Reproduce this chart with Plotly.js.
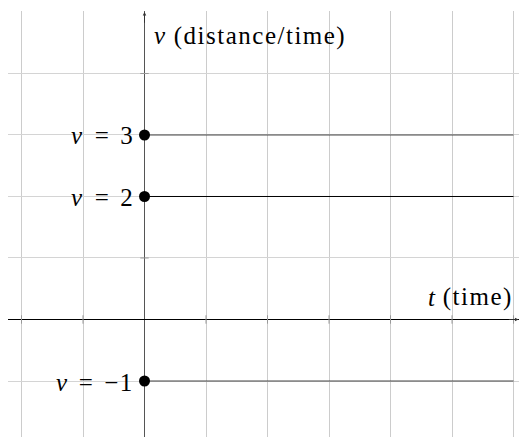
<!DOCTYPE html>
<html>
<head>
<meta charset="utf-8">
<script src="https://cdn.plot.ly/plotly-3.0.1.min.js"></script>
<style>
  html, body { margin: 0; padding: 0; background: #fff; }
  #chart { width: 519px; height: 437px; }
  .annotation-text { letter-spacing: 1.5px; }
</style>
</head>
<body>
<div id="chart"></div>
<script>
// Constant velocities, each held from t = 0 onward
const velocities = [3, 2, -1];
const tStart = 0;
const tEnd = 6;

// Axis tick positions (small marks along the axes)
const tTicks = [-2, -1, 1, 2, 3, 4, 5, 6];
const vTicks = [-1, 1, 2, 3, 4];

// Axis captions: italic variable name, then its description
const tVar = 't';
const tDesc = '\u00a0(time)';
const vVar = 'v';
const vDesc = '\u00a0(distance/time)';

const FAMILY = 'Liberation Serif';
const FS = 25;
const LS = 1.5; // matches the letter-spacing in the stylesheet
const lineColors = ['#444', '#000', '#444'];

// Width of a string as drawn in the annotation font
const ctx = document.createElement('canvas').getContext('2d');
function textWidth(str, italic) {
  ctx.font = (italic ? 'italic ' : '') + FS + 'px "' + FAMILY + '"';
  return ctx.measureText(str).width + LS * Array.from(str).length;
}
function txt(extra) {
  return Object.assign({ xref: 'x', yref: 'y', showarrow: false }, extra);
}
const upright = { family: FAMILY, size: FS, color: '#000' };
const italic = { family: FAMILY, size: FS, color: '#000', style: 'italic' };

const traces = [];

// Horizontal velocity lines
velocities.forEach((v, i) => {
  traces.push({
    x: [tStart, tEnd],
    y: [v, v],
    mode: 'lines',
    line: { color: lineColors[i], width: 1 },
    hoverinfo: 'skip',
    showlegend: false
  });
});

// Tick marks on the axes
traces.push({
  x: tTicks,
  y: tTicks.map(() => 0),
  mode: 'markers',
  marker: { symbol: 'line-ns', size: 6, line: { color: '#999', width: 1 } },
  hoverinfo: 'skip',
  showlegend: false
});
traces.push({
  x: vTicks.map(() => 0),
  y: vTicks,
  mode: 'markers',
  marker: { symbol: 'line-ew', size: 6, line: { color: '#999', width: 1 } },
  hoverinfo: 'skip',
  showlegend: false
});

// Starting points at t = 0
traces.push({
  x: velocities.map(() => tStart),
  y: velocities,
  mode: 'markers',
  marker: { color: '#000', size: 11 },
  hoverinfo: 'skip',
  showlegend: false
});

const annotations = [];

// Labels "v = value" beside the starting points
velocities.forEach(v => {
  const rest = '\u2004=\u2004' + (v < 0 ? '\u2212' + Math.abs(v) : String(v));
  annotations.push(txt({
    x: tStart, y: v, text: rest,
    xanchor: 'right', yanchor: 'middle', xshift: -9, yshift: -1, font: upright
  }));
  annotations.push(txt({
    x: tStart, y: v, text: vVar,
    xanchor: 'right', yanchor: 'middle', xshift: -9 - textWidth(rest, false), yshift: -1, font: italic
  }));
});

// Vertical axis caption
annotations.push(txt({
  x: 0, y: 5, text: vVar,
  xanchor: 'left', yanchor: 'middle', xshift: 7, yshift: -24, font: italic
}));
annotations.push(txt({
  x: 0, y: 5, text: vDesc,
  xanchor: 'left', yanchor: 'middle', xshift: 7 + textWidth(vVar, true), yshift: -24, font: upright
}));

// Horizontal axis caption
annotations.push(txt({
  x: 6.03, y: 0, text: tDesc,
  xanchor: 'right', yanchor: 'middle', yshift: 22, font: upright
}));
annotations.push(txt({
  x: 6.03, y: 0, text: tVar,
  xanchor: 'right', yanchor: 'middle', xshift: -textWidth(tDesc, false), yshift: 22, font: italic
}));

// Arrow tips on the axes
annotations.push({
  x: 0, y: 5, xref: 'x', yref: 'y',
  ax: 0, ay: 4.8, axref: 'x', ayref: 'y',
  showarrow: true, arrowhead: 2, arrowsize: 0.7, arrowwidth: 1, arrowcolor: '#333', text: ''
});
annotations.push({
  x: 6.08, y: 0, xref: 'x', yref: 'y',
  ax: 5.9, ay: 0, axref: 'x', ayref: 'y',
  showarrow: true, arrowhead: 2, arrowsize: 0.7, arrowwidth: 1, arrowcolor: '#333', text: ''
});

const layout = {
  width: 519,
  height: 437,
  margin: { l: 8, r: 0, t: 11, b: 0, pad: 0 },
  paper_bgcolor: '#fff',
  plot_bgcolor: '#fff',
  showlegend: false,
  xaxis: {
    range: [-2.2195, 6.089],
    dtick: 1,
    tick0: 0,
    showgrid: true,
    gridcolor: '#cccccc',
    gridwidth: 1,
    zeroline: true,
    zerolinecolor: '#555',
    zerolinewidth: 1,
    showticklabels: false,
    ticks: '',
    showline: false,
    fixedrange: true
  },
  yaxis: {
    range: [-1.9106, 5.016],
    dtick: 1,
    tick0: 0,
    showgrid: true,
    gridcolor: '#d4d4d4',
    gridwidth: 1,
    zeroline: true,
    zerolinecolor: '#000',
    zerolinewidth: 1,
    showticklabels: false,
    ticks: '',
    showline: false,
    fixedrange: true
  },
  annotations: annotations
};

Plotly.newPlot('chart', traces, layout, { staticPlot: true, displayModeBar: false });
</script>
</body>
</html>
